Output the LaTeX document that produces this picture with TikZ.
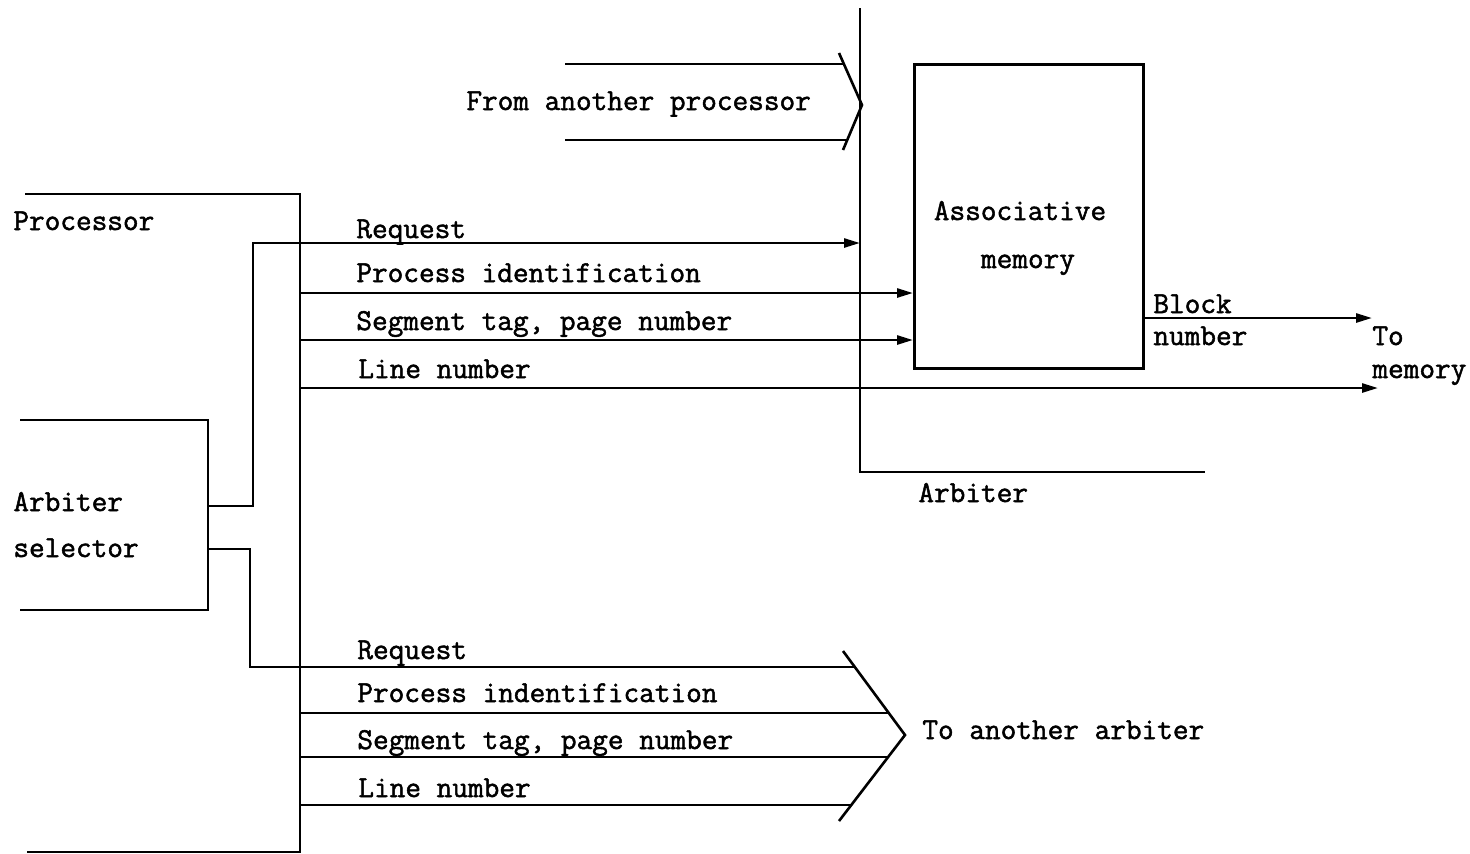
\documentclass[tikz,border=0pt]{standalone}
\usepackage{fontspec}
\setmonofont[FakeBold=1.6]{Latin Modern Mono}
\usetikzlibrary{arrows.meta}
\begin{document}
\begin{tikzpicture}[x=0.5pt,y=-0.5pt,
  wire/.style={line width=1.3pt, line join=miter},
  arr/.style={wire, -{Triangle[length=8pt,width=4.5pt]}},
  lbl/.style={anchor=base west, inner sep=0pt, font=\ttfamily\fontsize{15.2}{17}\selectfont},
  clbl/.style={anchor=base, inner sep=0pt, font=\ttfamily\fontsize{15.2}{17}\selectfont}]
\useasboundingbox (0,0) rectangle (1470,853);

% ---- processor block
\coordinate (pTop) at (25,194);
\coordinate (pCorner) at (300,194);
\coordinate (pBotCorner) at (300,852);
\coordinate (pBot) at (27,852);
\draw[wire] (pTop) -- (pCorner) -- (pBotCorner) -- (pBot);
\node[lbl] (proc) at (13,230) {Processor};

% ---- arbiter selector block
\coordinate (sTop) at (20,420);
\coordinate (sTopCorner) at (208,420);
\coordinate (sBotCorner) at (208,610);
\coordinate (sBot) at (20,610);
\draw[wire] (sTop) -- (sTopCorner) -- (sBotCorner) -- (sBot);
\node[lbl] (sel1) at (13,511) {Arbiter};
\node[lbl] (sel2) at (13,557) {selector};

% ---- arbiter
\coordinate (arbTop) at (860,8);
\coordinate (arbCorner) at (860,472);
\coordinate (arbEnd) at (1205,472);
\draw[wire] (arbTop) -- (arbCorner) -- (arbEnd);
\node[lbl] (arb) at (918,502) {Arbiter};

% ---- associative memory
\node[draw, wire, anchor=north west, minimum width=114.5pt, minimum height=152pt, inner sep=0pt]
  (am) at (913,63) {};
\node[clbl] (am1) at (1020,220) {Associative};
\node[clbl] (am2) at (1028,268) {memory};

% ---- input from another processor
\coordinate (fTop) at (839,53);
\coordinate (fTip) at (862,105);
\coordinate (fBot) at (843,150);
\coordinate (fA) at (565,64);
\coordinate (fAe) at (844,64);
\coordinate (fB) at (565,140);
\coordinate (fBe) at (847,140);
\draw[wire] (fA) -- (fAe);
\draw[wire] (fB) -- (fBe);
\draw[wire] (fTop) -- (fTip) -- (fBot);
\node[lbl] (fromp) at (466,110) {From another processor};

% ---- selector outputs
\coordinate (selOut1) at (208,506);
\coordinate (selUp) at (253,506);
\coordinate (rq) at (253,243);
\draw[arr] (selOut1) -- (selUp) -- (rq) -- (rq -| arbTop);
\coordinate (selOut2) at (208,549);
\coordinate (selDn) at (250,549);
\coordinate (rq2) at (250,667);
\coordinate (rq2e) at (855,667);
\draw[wire] (selOut2) -- (selDn) -- (rq2) -- (rq2e);

% ---- processor outputs to the arbiter
\coordinate (pid) at (300,293);
\coordinate (seg) at (300,340);
\coordinate (ln) at (300,388);
\coordinate (lnEnd) at (1378,388);
\draw[arr] (pid) -- (pid -| am.west);
\draw[arr] (seg) -- (seg -| am.west);
\draw[arr] (ln) -- (lnEnd);
\node[lbl] (l1) at (356,238) {Request};
\node[lbl] (l2) at (356,282) {Process identification};
\node[lbl] (l3) at (356,330) {Segment tag, page number};
\node[lbl] (l4) at (358,378) {Line number};

% ---- block number to memory
\coordinate (bnEnd) at (1372,318);
\draw[arr] (am.east |- bnEnd) -- (bnEnd);
\node[lbl] (bn1) at (1153,313) {Block};
\node[lbl] (bn2) at (1153,345) {number};
\node[lbl] (tm1) at (1372,345) {To};
\node[lbl] (tm2) at (1372,378) {memory};

% ---- outputs to another arbiter
\coordinate (cTop) at (843,651);
\coordinate (cTip) at (905,735);
\coordinate (cBot) at (839,821);
\coordinate (pid2) at (300,713);
\coordinate (pid2e) at (889,713);
\coordinate (seg2) at (300,757);
\coordinate (seg2e) at (888,757);
\coordinate (ln2) at (300,805);
\coordinate (ln2e) at (851,805);
\draw[wire] (pid2) -- (pid2e);
\draw[wire] (seg2) -- (seg2e);
\draw[wire] (ln2) -- (ln2e);
\draw[wire] (cTop) -- (cTip) -- (cBot);
\node[lbl] (m1) at (357,659) {Request};
\node[lbl] (m2) at (357,702) {Process indentification};
\node[lbl] (m3) at (357,749) {Segment tag, page number};
\node[lbl] (m4) at (358,797) {Line number};
\node[lbl] (toarb) at (922,739) {To another arbiter};
\end{tikzpicture}
\end{document}
